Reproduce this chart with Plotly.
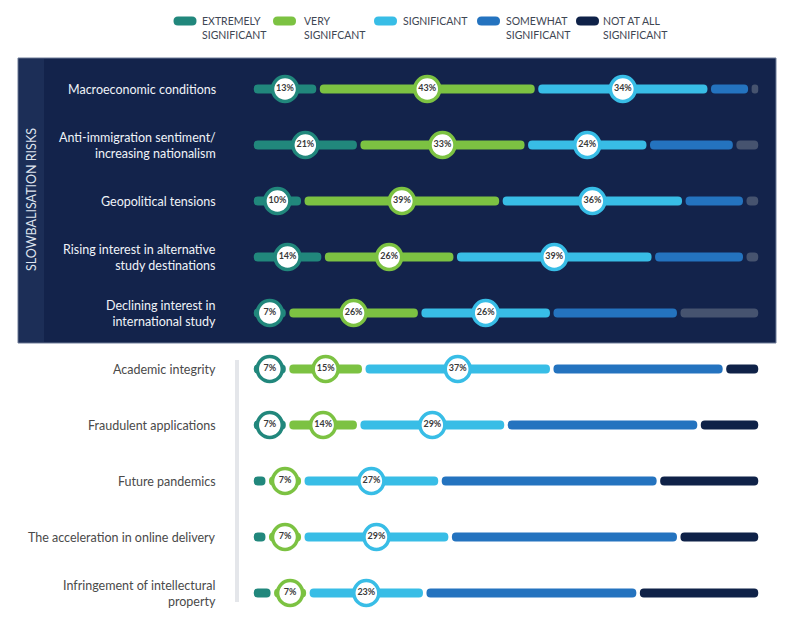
import plotly.graph_objects as go

# ---------------- data ----------------
rows = [
    "Macroeconomic conditions",
    "Anti-immigration sentiment/<br>increasing nationalism",
    "Geopolitical tensions",
    "Rising interest in alternative<br>study destinations",
    "Declining interest in<br>international study",
    "Academic integrity",
    "Fraudulent applications",
    "Future pandemics",
    "The acceleration in online delivery",
    "Infringement of intellectural<br>property",
]
n_top = 5  # first rows belong to the "slowbalisation risks" group

series_names = ["EXTREMELY<br>SIGNIFICANT", "VERY<br>SIGNIFCANT", "SIGNIFICANT",
                "SOMEWHAT<br>SIGNIFICANT", "NOT AT ALL<br>SIGNIFICANT"]
extremely = [13, 21, 10, 14, 7, 7, 7, 3, 3, 4]
very = [43, 33, 39, 26, 26, 15, 14, 7, 7, 7]
significant = [34, 24, 36, 39, 26, 37, 29, 27, 29, 23]
somewhat = [8, 17, 12, 18, 25, 34, 38, 43, 45, 42]
not_at_all = [2, 5, 3, 3, 16, 7, 12, 20, 16, 24]
group_title = "SLOWBALISATION RISKS"

# ---------------- styles ----------------
C_TEAL = "#21877c"
C_GREEN = "#7cc242"
C_LIGHT = "#38bde6"
C_SOME = "#2473bf"
C_NOT = "#0f2248"
C_NOT_DARK = "#46536f"
BOX_BG = "#13234b"
STRIP_BG = "#1c2e57"
FONT = "Lato"

OFF = 8  # page body margin offset
W, H = 800 - OFF, 629 - OFF
L, R, T, B = 252 - OFF, 40, 61 - OFF, 8
PW, PH = W - L - R, H - T - B


def px_x(px):
    return (px - OFF - L) / PW


def px_y(py):
    return (H - B - (py - OFF)) / PH


series = [extremely, very, significant, somewhat, not_at_all]
colors = [C_TEAL, C_GREEN, C_LIGHT, C_SOME, C_NOT]
gap = 0.7
y_idx = list(range(len(rows)))

fig = go.Figure()

cum = [0.0] * len(rows)
starts = []
for si, vals in enumerate(series):
    starts.append(cum[:])
    if si == 4:
        col = [C_NOT_DARK if i < n_top else C_NOT for i in range(len(rows))]
    else:
        col = colors[si]
    fig.add_trace(go.Bar(
        y=y_idx, x=[v - gap for v in vals], base=[c + gap / 2 for c in cum],
        orientation="h", width=0.16,
        marker=dict(color=col, cornerradius="50%", line=dict(width=0)),
        hoverinfo="skip", showlegend=False,
    ))
    cum = [c + v for c, v in zip(cum, vals)]

# label circles for first three series
for si in range(3):
    vals = series[si]
    xs, ys, txt = [], [], []
    for i, v in enumerate(vals):
        if v >= 5:
            xs.append(starts[si][i] + v / 2)
            ys.append(i)
            txt.append(f"{v}%")
    fig.add_trace(go.Scatter(
        x=xs, y=ys, mode="markers+text", text=txt, textposition="middle center",
        marker=dict(size=25, color="white", line=dict(color=colors[si], width=3.5)),
        textfont=dict(family=FONT, size=9, color="#3a3a3a", weight="bold"),
        hoverinfo="skip", showlegend=False, cliponaxis=False,
    ))

shapes = []
# dark group box
shapes.append(dict(type="rect", xref="paper", yref="paper", layer="below",
                   x0=px_x(18), x1=px_x(776), y0=px_y(343), y1=px_y(58),
                   fillcolor=BOX_BG, line=dict(color="#6f7d99", width=1)))
shapes.append(dict(type="rect", xref="paper", yref="paper", layer="below",
                   x0=px_x(19), x1=px_x(44), y0=px_y(342), y1=px_y(59),
                   fillcolor=STRIP_BG, line=dict(width=0)))
# light divider line for lower group
shapes.append(dict(type="line", xref="paper", yref="paper", layer="below",
                   x0=px_x(237), x1=px_x(237), y0=px_y(360), y1=px_y(602),
                   line=dict(color="#e4e6ea", width=4)))

annotations = []
annotations.append(dict(text=group_title, xref="paper", yref="paper",
                        x=px_x(31), y=px_y(200), textangle=-90, showarrow=False,
                        font=dict(family=FONT, size=12.5, color="#dfe4ee"),
                        xanchor="center", yanchor="middle"))
for i, lab in enumerate(rows):
    annotations.append(dict(text=lab, xref="paper", yref="y", x=px_x(218), y=i,
                            xanchor="right", yanchor="middle", align="right",
                            showarrow=False,
                            font=dict(family=FONT, size=12.5,
                                      color="#f0f3f8" if i < n_top else "#4a4a4a")))

# legend
leg_pill_cx = [185, 284.5, 385.5, 488.5, 587.5]
leg_text_x = [200, 302, 401, 504, 601]
pill = "M-7,-4.5 L7,-4.5 Q11.5,-4.5 11.5,0 Q11.5,4.5 7,4.5 L-7,4.5 Q-11.5,4.5 -11.5,0 Q-11.5,-4.5 -7,-4.5 Z"
for k in range(5):
    shapes.append(dict(type="path", xref="paper", yref="paper",
                       xsizemode="pixel", ysizemode="pixel",
                       xanchor=px_x(leg_pill_cx[k]), yanchor=px_y(21),
                       path=pill, fillcolor=colors[k], line=dict(width=0)))
    annotations.append(dict(text=series_names[k], xref="paper", yref="paper",
                            x=px_x(leg_text_x[k]), y=px_y(13), xanchor="left",
                            yanchor="top", align="left", showarrow=False,
                            font=dict(family=FONT, size=10.5, color="#3e4653")))

fig.update_layout(
    width=W, height=H, margin=dict(l=L, r=R, t=T, b=B),
    paper_bgcolor="white", plot_bgcolor="rgba(0,0,0,0)",
    barmode="overlay", showlegend=False,
    xaxis=dict(range=[0, 100], visible=False, fixedrange=True),
    yaxis=dict(range=[len(rows) - 0.5, -0.5], visible=False, fixedrange=True),
    shapes=shapes, annotations=annotations,
)

fig.write_html("out.html")
